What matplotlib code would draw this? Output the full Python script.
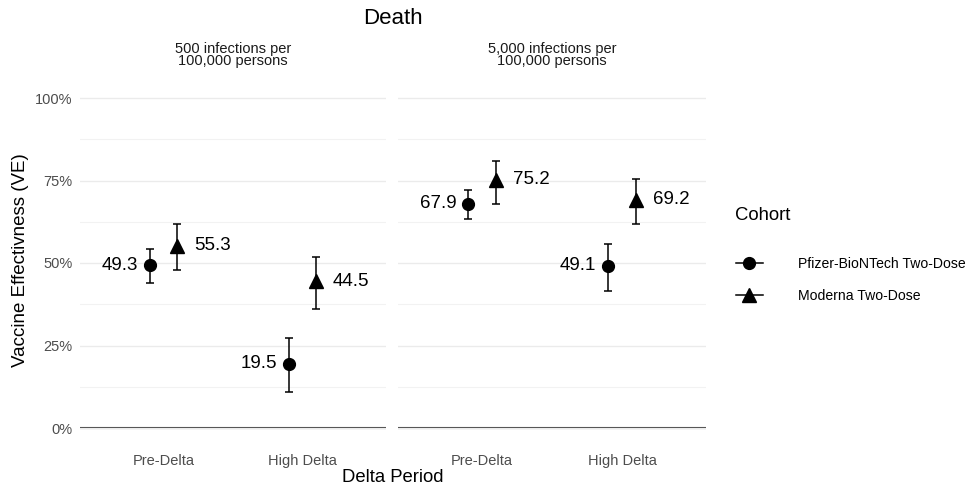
import matplotlib.pyplot as plt
from matplotlib.lines import Line2D
from matplotlib.ticker import MultipleLocator, FuncFormatter

plt.rcParams['font.family'] = ['Liberation Sans', 'DejaVu Sans']

periods = ["Pre-Delta", "High Delta"]
facets = ["500 infections per\n100,000 persons", "5,000 infections per\n100,000 persons"]
cohorts = ["Pfizer-BioNTech Two-Dose", "Moderna Two-Dose"]

# VE estimates and 95% CI per facet, cohort, period
pfizer_ve = [[49.3, 19.5], [67.9, 49.1]]
pfizer_lo = [[44.0, 10.8], [63.4, 41.5]]
pfizer_hi = [[54.2, 27.4], [72.0, 55.9]]
moderna_ve = [[55.3, 44.5], [75.2, 69.2]]
moderna_lo = [[47.9, 36.0], [68.0, 61.7]]
moderna_hi = [[61.7, 51.9], [80.9, 75.4]]

fig = plt.figure(figsize=(9.72, 4.88), dpi=100)
W, H = 972, 488
panels = [(80, 386), (398, 706)]
top, bottom = 81.5, 444.5

tick_col = '#4D4D4D'
axes = []
for f, (x0, x1) in enumerate(panels):
    ax = fig.add_axes([x0 / W, 1 - bottom / H, (x1 - x0) / W, (bottom - top) / H])
    axes.append(ax)
    ax.set_xlim(0.4, 2.6)
    ax.set_ylim(-5, 105)
    ax.yaxis.set_major_locator(MultipleLocator(25))
    ax.yaxis.set_minor_locator(MultipleLocator(12.5))
    ax.grid(axis='y', which='major', color='#EBEBEB', lw=1.0, zorder=0)
    ax.grid(axis='y', which='minor', color='#F2F2F2', lw=0.8, zorder=0)
    for s in ax.spines.values():
        s.set_visible(False)
    ax.tick_params(which='both', length=0, colors=tick_col, labelsize=10.5)
    ax.set_xticks([1, 2])
    ax.set_xticklabels(periods)
    ax.tick_params(axis='x', pad=7)
    ax.tick_params(axis='y', pad=5.5)
    ax.axhline(0, color='#333333', lw=1.5, zorder=1)
    fig.text((x0 + x1) / 2 / W, 1 - 55 / H, facets[f], ha='center', va='center',
             fontsize=10.5, color='#1A1A1A', linespacing=0.9)

    xs = [1, 2]
    for i in range(2):
        xp = xs[i] - 0.1
        xm = xs[i] + 0.1
        ax.errorbar(xp, pfizer_ve[f][i],
                    yerr=[[pfizer_ve[f][i] - pfizer_lo[f][i]], [pfizer_hi[f][i] - pfizer_ve[f][i]]],
                    fmt='o', color='black', ms=8.5, capsize=2.8, elinewidth=1.1, capthick=1.1, zorder=3)
        ax.errorbar(xm, moderna_ve[f][i],
                    yerr=[[moderna_ve[f][i] - moderna_lo[f][i]], [moderna_hi[f][i] - moderna_ve[f][i]]],
                    fmt='^', color='black', ms=10.5, capsize=2.8, elinewidth=1.1, capthick=1.1, zorder=3)
        ax.annotate(f"{pfizer_ve[f][i]:.1f}", (xp, pfizer_ve[f][i]), xytext=(-8.4, 0),
                    textcoords='offset points', ha='right', va='center', fontsize=13.5)
        ax.annotate(f"{moderna_ve[f][i]:.1f}", (xm, moderna_ve[f][i]), xytext=(12, 0),
                    textcoords='offset points', ha='left', va='center', fontsize=13.5)

axes[0].yaxis.set_major_formatter(FuncFormatter(lambda v, p: f"{v:.0f}%"))
axes[1].set_yticklabels([])

fig.text(21 / W, 1 - 260 / H, "Vaccine Effectivness (VE)", rotation=90,
         ha='center', va='center', fontsize=13.5)
fig.text(393 / W, 1 - 478 / H, "Delta Period", ha='center', va='center', fontsize=13.3)
fig.text(393 / W, 1 - 18 / H, "Death", ha='center', va='center', fontsize=16)
fig.text(735 / W, 1 - 216 / H, "Cohort", ha='left', va='center', fontsize=13.3)

handles = [Line2D([0], [0], color='black', marker='o', ms=8.5, lw=1.1),
           Line2D([0], [0], color='black', marker='^', ms=10, lw=1.1)]
leg = fig.legend(handles, cohorts, loc='upper left',
                 bbox_to_anchor=(730 / W, 1 - 251 / H), frameon=False,
                 fontsize=10.1, handlelength=1.92,
                 labelspacing=1.33, handletextpad=2.5, borderaxespad=0)

fig.savefig("out.png", dpi=100)
